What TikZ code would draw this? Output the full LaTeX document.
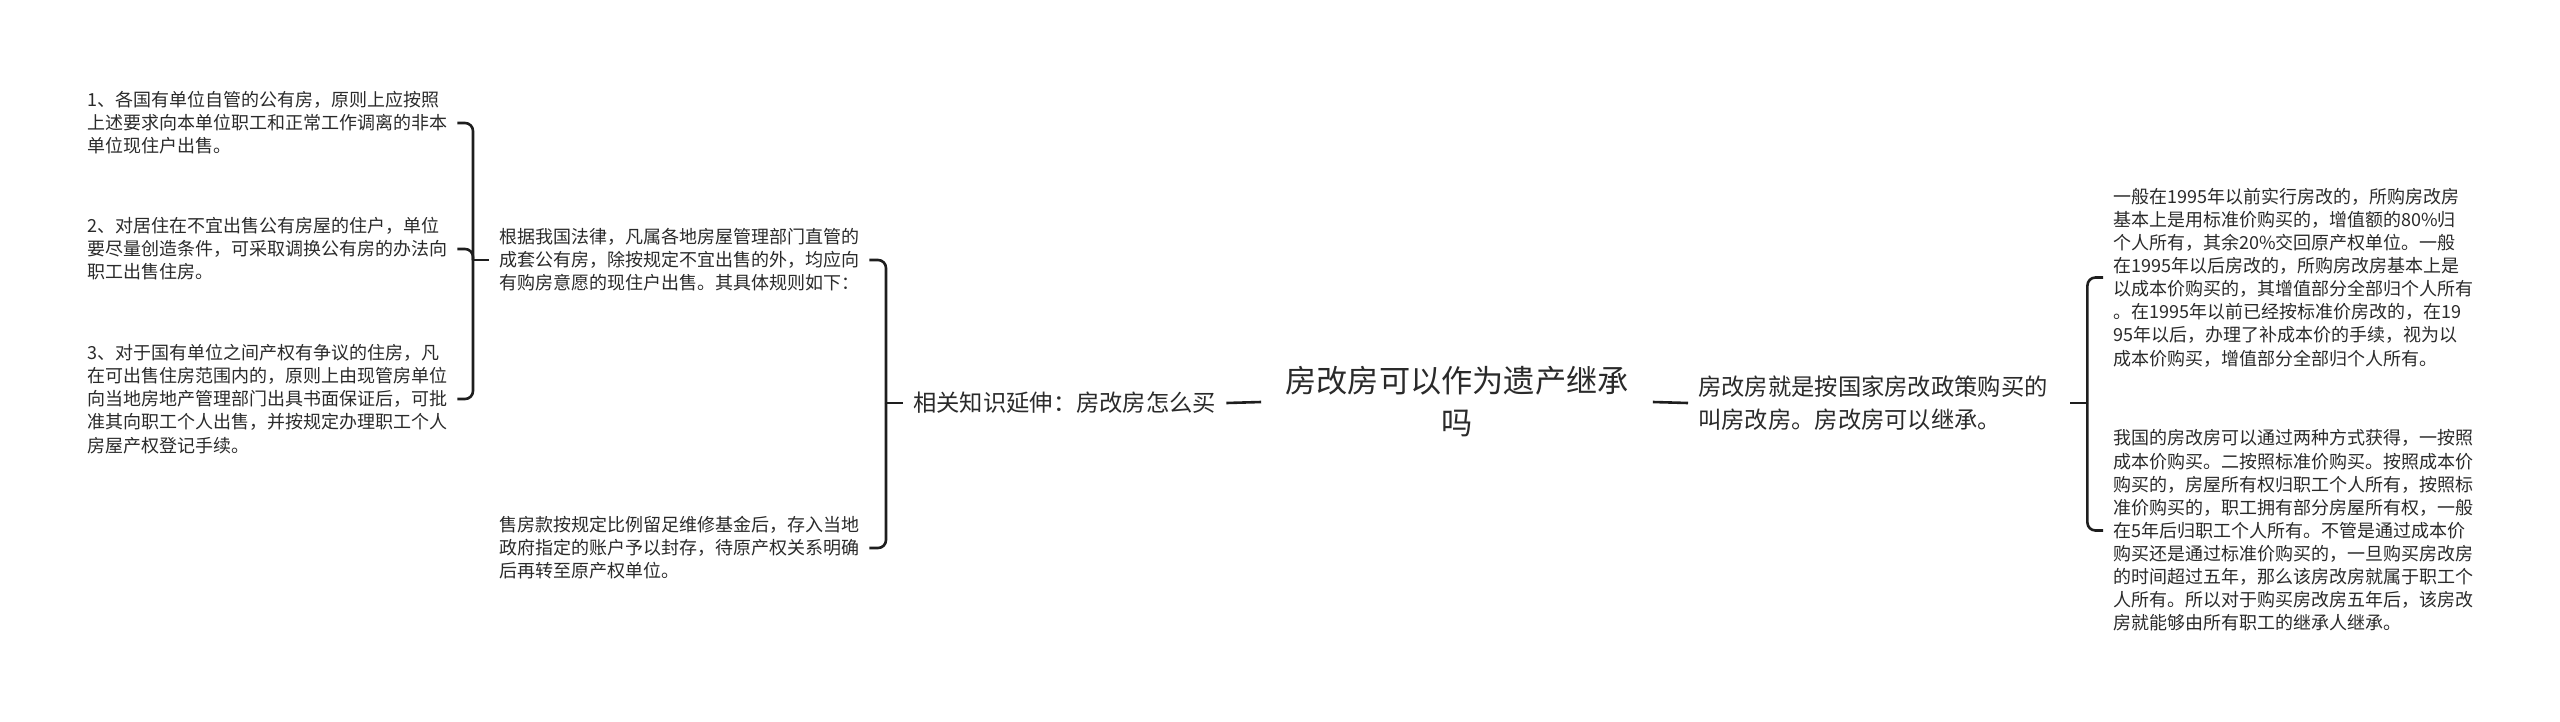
\documentclass[tikz,border=0pt]{standalone}
\usepackage{fontspec}
\setmainfont{Noto Sans CJK SC}
\definecolor{txt}{HTML}{2A2A2A}
\definecolor{ln}{HTML}{1E1E1E}
\tikzset{
  every node/.style={text=txt, inner ysep=0pt, inner xsep=10pt},
  small/.style={font=\fontsize{18pt}{23.1pt}\selectfont, align=left, anchor=west},
  mid/.style={font=\fontsize{23.3pt}{33pt}\selectfont, align=left, anchor=west},
  topic/.style={font=\fontsize{31.2pt}{42pt}\selectfont, align=center, inner xsep=24pt},
  conn/.style={draw=ln, line width=2.6pt, rounded corners=8pt},
}
\begin{document}
\begin{tikzpicture}[x=1pt,y=-1pt]
\useasboundingbox (0,0) rectangle (2560,721);
% central topic
\node[topic] (C) at (1457,402) {房改房可以作为遗产继承\\吗};
% left side
\node[mid] (L1) at (903,403) {相关知识延伸：房改房怎么买};
\node[small] (L2a) at (489,260) {根据我国法律，凡属各地房屋管理部门直管的\\成套公有房，除按规定不宜出售的外，均应向\\有购房意愿的现住户出售。其具体规则如下：};
\node[small] (L2b) at (489,548) {售房款按规定比例留足维修基金后，存入当地\\政府指定的账户予以封存，待原产权关系明确\\后再转至原产权单位。};
\node[small] (L3a) at (77,123) {1、各国有单位自管的公有房，原则上应按照\\上述要求向本单位职工和正常工作调离的非本\\单位现住户出售。};
\node[small] (L3b) at (77,249) {2、对居住在不宜出售公有房屋的住户，单位\\要尽量创造条件，可采取调换公有房的办法向\\职工出售住房。};
\node[small] (L3c) at (77,399) {3、对于国有单位之间产权有争议的住房，凡\\在可出售住房范围内的，原则上由现管房单位\\向当地房地产管理部门出具书面保证后，可批\\准其向职工个人出售，并按规定办理职工个人\\房屋产权登记手续。};
% right side
\node[mid, text width=362pt] (R1) at (1688,403) {房改房就是按国家房改政策购买的\\叫房改房。房改房可以继承。};
\node[small] (R2a) at (2103,277.5) {一般在1995年以前实行房改的，所购房改房\\基本上是用标准价购买的，增值额的80\%归\\个人所有，其余20\%交回原产权单位。一般\\在1995年以后房改的，所购房改房基本上是\\以成本价购买的，其增值部分全部归个人所有\\。在1995年以前已经按标准价房改的，在19\\95年以后，办理了补成本价的手续，视为以\\成本价购买，增值部分全部归个人所有。};
\node[small] (R2b) at (2103,530.5) {我国的房改房可以通过两种方式获得，一按照\\成本价购买。二按照标准价购买。按照成本价\\购买的，房屋所有权归职工个人所有，按照标\\准价购买的，职工拥有部分房屋所有权，一般\\在5年后归职工个人所有。不管是通过成本价\\购买还是通过标准价购买的，一旦购买房改房\\的时间超过五年，那么该房改房就属于职工个\\人所有。所以对于购买房改房五年后，该房改\\房就能够由所有职工的继承人继承。};
% connectors: topic level
\draw[conn] (L1.east) -- (C.west);
\draw[conn] (C.east) -- (R1.west);
% left bracket L1 -> L2
\draw[conn] (L1.west) -- ++(-17,0);
\draw[conn] (L2a.east) -| ([xshift=-17pt]L1.west);
\draw[conn] (L2b.east) -| ([xshift=-17pt]L1.west);
% left bracket L2a -> L3
\draw[conn] (L2a.west) -- ++(-16,0);
\draw[conn] (L3a.east) -| ([xshift=-16pt]L2a.west);
\draw[conn] (L3b.east) -| ([xshift=-16pt]L2a.west);
\draw[conn] (L3c.east) -| ([xshift=-16pt]L2a.west);
% right bracket R1 -> R2
\draw[conn] (R1.east) -- ++(17,0);
\draw[conn] (R2a.west) -| ([xshift=17pt]R1.east);
\draw[conn] (R2b.west) -| ([xshift=17pt]R1.east);
\end{tikzpicture}
\end{document}
